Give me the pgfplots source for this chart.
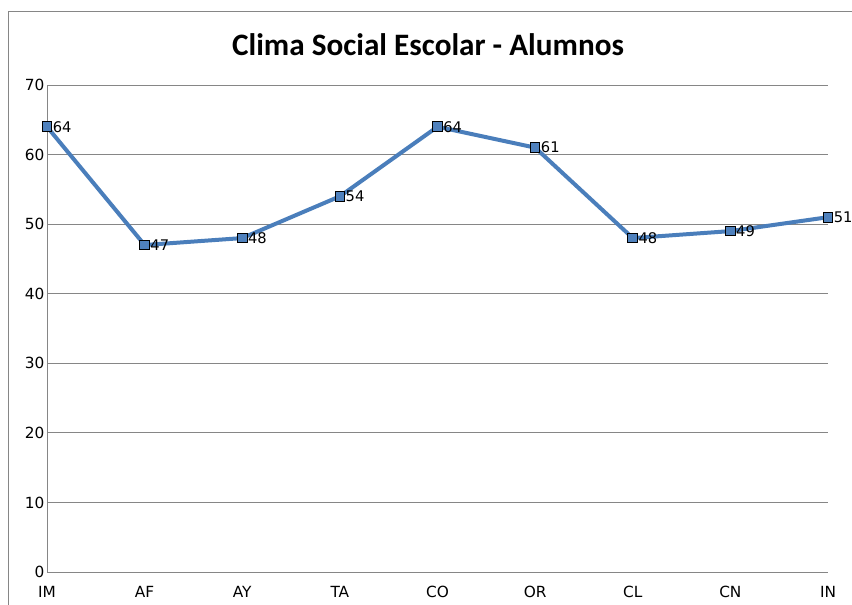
\documentclass[border=0pt]{standalone}
\usepackage{fontspec}
\setmainfont{DejaVu Sans}
\newfontfamily\titlefont{Carlito}
\usepackage{pgfplots}
\pgfplotsset{compat=1.18}
\definecolor{xlblue}{RGB}{74,126,187}
\definecolor{xlmark}{RGB}{79,129,189}
\definecolor{xlgrid}{RGB}{134,134,134}
\begin{document}
\begin{tikzpicture}[x=0.75pt,y=0.75pt]
\useasboundingbox (0,0) rectangle (852,-604);
\clip (0,0) rectangle (852,-604);
\draw[xlgrid, line width=0.75pt] (8,-11) rectangle (870,-620);
\node[font=\titlefont\bfseries\fontsize{23.4}{26}\selectfont] at (428,-45) {Clima Social Escolar - Alumnos};
\begin{axis}[
    at={(35.25pt,-429pt)}, anchor=south west,
    scale only axis,
    width=585.75pt, height=365.25pt,
    xmin=0, xmax=8, ymin=0, ymax=70,
    xtick={0,...,8},
    xticklabels={IM,AF,AY,TA,CO,OR,CL,CN,IN},
    ytick={0,10,...,70},
    major tick length=0pt,
    axis x line*=bottom, axis y line*=left,
    axis line style={xlgrid, line width=0.75pt, -},
    ymajorgrids, grid style={xlgrid, line width=0.75pt},
    /pgf/number format/assume math mode=true,
    tick label style={font=\fontsize{11.5}{13}\selectfont},
    xticklabel style={yshift=-7pt},
    yticklabel style={xshift=1.5pt},
    clip=false,
]
\addplot[xlblue, line width=3pt, mark=square*,
    mark options={fill=xlmark, draw=black, line width=0.7pt, solid}, mark size=3.6pt,
    nodes near coords, point meta=explicit symbolic,
    every node near coord/.append style={anchor=west, xshift=4pt, yshift=0pt, font=\fontsize{11}{13}\selectfont, black, inner sep=0pt}]
coordinates {
  (0,64) [64] (1,47) [47] (2,48) [48] (3,54) [54] (4,64) [64]
  (5,61) [61] (6,48) [48] (7,49) [49] (8,51) [51]
};
\end{axis}
\end{tikzpicture}
\end{document}
